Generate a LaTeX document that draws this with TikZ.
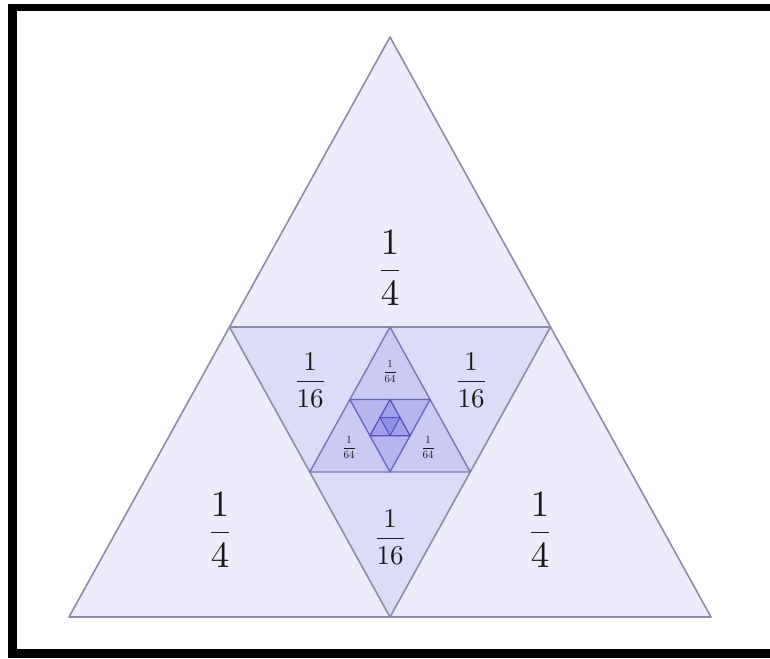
\documentclass[tikz,border=0pt]{standalone}
\usetikzlibrary{calc}
\definecolor{cA}{RGB}{236,236,250}
\definecolor{cB}{RGB}{220,220,247}
\definecolor{cC}{RGB}{202,202,243}
\definecolor{cD}{RGB}{182,182,239}
\definecolor{cE}{RGB}{162,162,234}
\definecolor{cF}{RGB}{145,145,230}
\definecolor{lnA}{RGB}{140,140,168}
\definecolor{lnB}{RGB}{120,120,176}
\definecolor{lnC}{RGB}{100,100,196}
\definecolor{lnD}{RGB}{80,80,196}
\tikzset{
  tri/.style={line join=round, line width=1.6pt},
  lab/.style={inner sep=0pt, text=black!90},
  frame/.style={fill=black}
}
\begin{document}
\begin{tikzpicture}[x=1pt,y=-1pt]
\useasboundingbox (0,0) rectangle (770,658);
\clip (0,0) rectangle (770,658);
\fill[white] (0,0) rectangle (770,658);
% frame
\fill[frame] (8,4) rectangle (770,11.5);
\fill[frame] (8,4) rectangle (16.5,658);
\fill[frame] (8,649) rectangle (770,658);
% level 0
\coordinate (A) at (390,37);
\coordinate (B) at (69,617);
\coordinate (C) at (711,617);
% level 1
\coordinate (P1) at ($(A)!0.5!(B)$);
\coordinate (Q1) at ($(A)!0.5!(C)$);
\coordinate (R1) at ($(B)!0.5!(C)$);
% level 2
\coordinate (P2) at ($(P1)!0.5!(Q1)$);
\coordinate (Q2) at ($(P1)!0.5!(R1)$);
\coordinate (R2) at ($(Q1)!0.5!(R1)$);
% level 3
\coordinate (P3) at ($(P2)!0.5!(Q2)$);
\coordinate (Q3) at ($(P2)!0.5!(R2)$);
\coordinate (R3) at ($(Q2)!0.5!(R2)$);
% level 4
\coordinate (P4) at ($(P3)!0.5!(Q3)$);
\coordinate (Q4) at ($(P3)!0.5!(R3)$);
\coordinate (R4) at ($(Q3)!0.5!(R3)$);
% level 5
\coordinate (P5) at ($(P4)!0.5!(Q4)$);
\coordinate (Q5) at ($(P4)!0.5!(R4)$);
\coordinate (R5) at ($(Q4)!0.5!(R4)$);
% fills
\fill[cA] (A) -- (B) -- (C) -- cycle;
\fill[cB] (P1) -- (Q1) -- (R1) -- cycle;
\fill[cC] (P2) -- (Q2) -- (R2) -- cycle;
\fill[cD] (P3) -- (Q3) -- (R3) -- cycle;
\fill[cE] (P4) -- (Q4) -- (R4) -- cycle;
\fill[cF] (P5) -- (Q5) -- (R5) -- cycle;
% outlines
\draw[tri, lnA] (A) -- (B) -- (C) -- cycle;
\draw[tri, lnA] (P1) -- (Q1) -- (R1) -- cycle;
\draw[tri, lnB, line width=1.4pt] (P2) -- (Q2) -- (R2) -- cycle;
\draw[tri, lnC, line width=1.3pt] (P3) -- (Q3) -- (R3) -- cycle;
\draw[tri, lnD, line width=1.2pt] (P4) -- (Q4) -- (R4) -- cycle;
\draw[tri, lnD, line width=1pt] (P5) -- (Q5) -- (R5) -- cycle;
% labels
\node[lab, scale=3.7] (qT) at (390,268) {$\displaystyle\frac{1}{4}$};
\node[lab, scale=3.7] (qL) at (220,530) {$\displaystyle\frac{1}{4}$};
\node[lab, scale=3.7] (qR) at (540,530) {$\displaystyle\frac{1}{4}$};
\node[lab, scale=2.7] (sL) at (310,380) {$\displaystyle\frac{1}{16}$};
\node[lab, scale=2.7] (sR) at (471,380) {$\displaystyle\frac{1}{16}$};
\node[lab, scale=2.7] (sB) at (390,537) {$\displaystyle\frac{1}{16}$};
\node[lab, scale=1.1] (tT) at (390,371) {$\displaystyle\frac{1}{64}$};
\node[lab, scale=1.1] (tL) at (349,447) {$\displaystyle\frac{1}{64}$};
\node[lab, scale=1.1] (tR) at (428,447) {$\displaystyle\frac{1}{64}$};
\end{tikzpicture}
\end{document}
